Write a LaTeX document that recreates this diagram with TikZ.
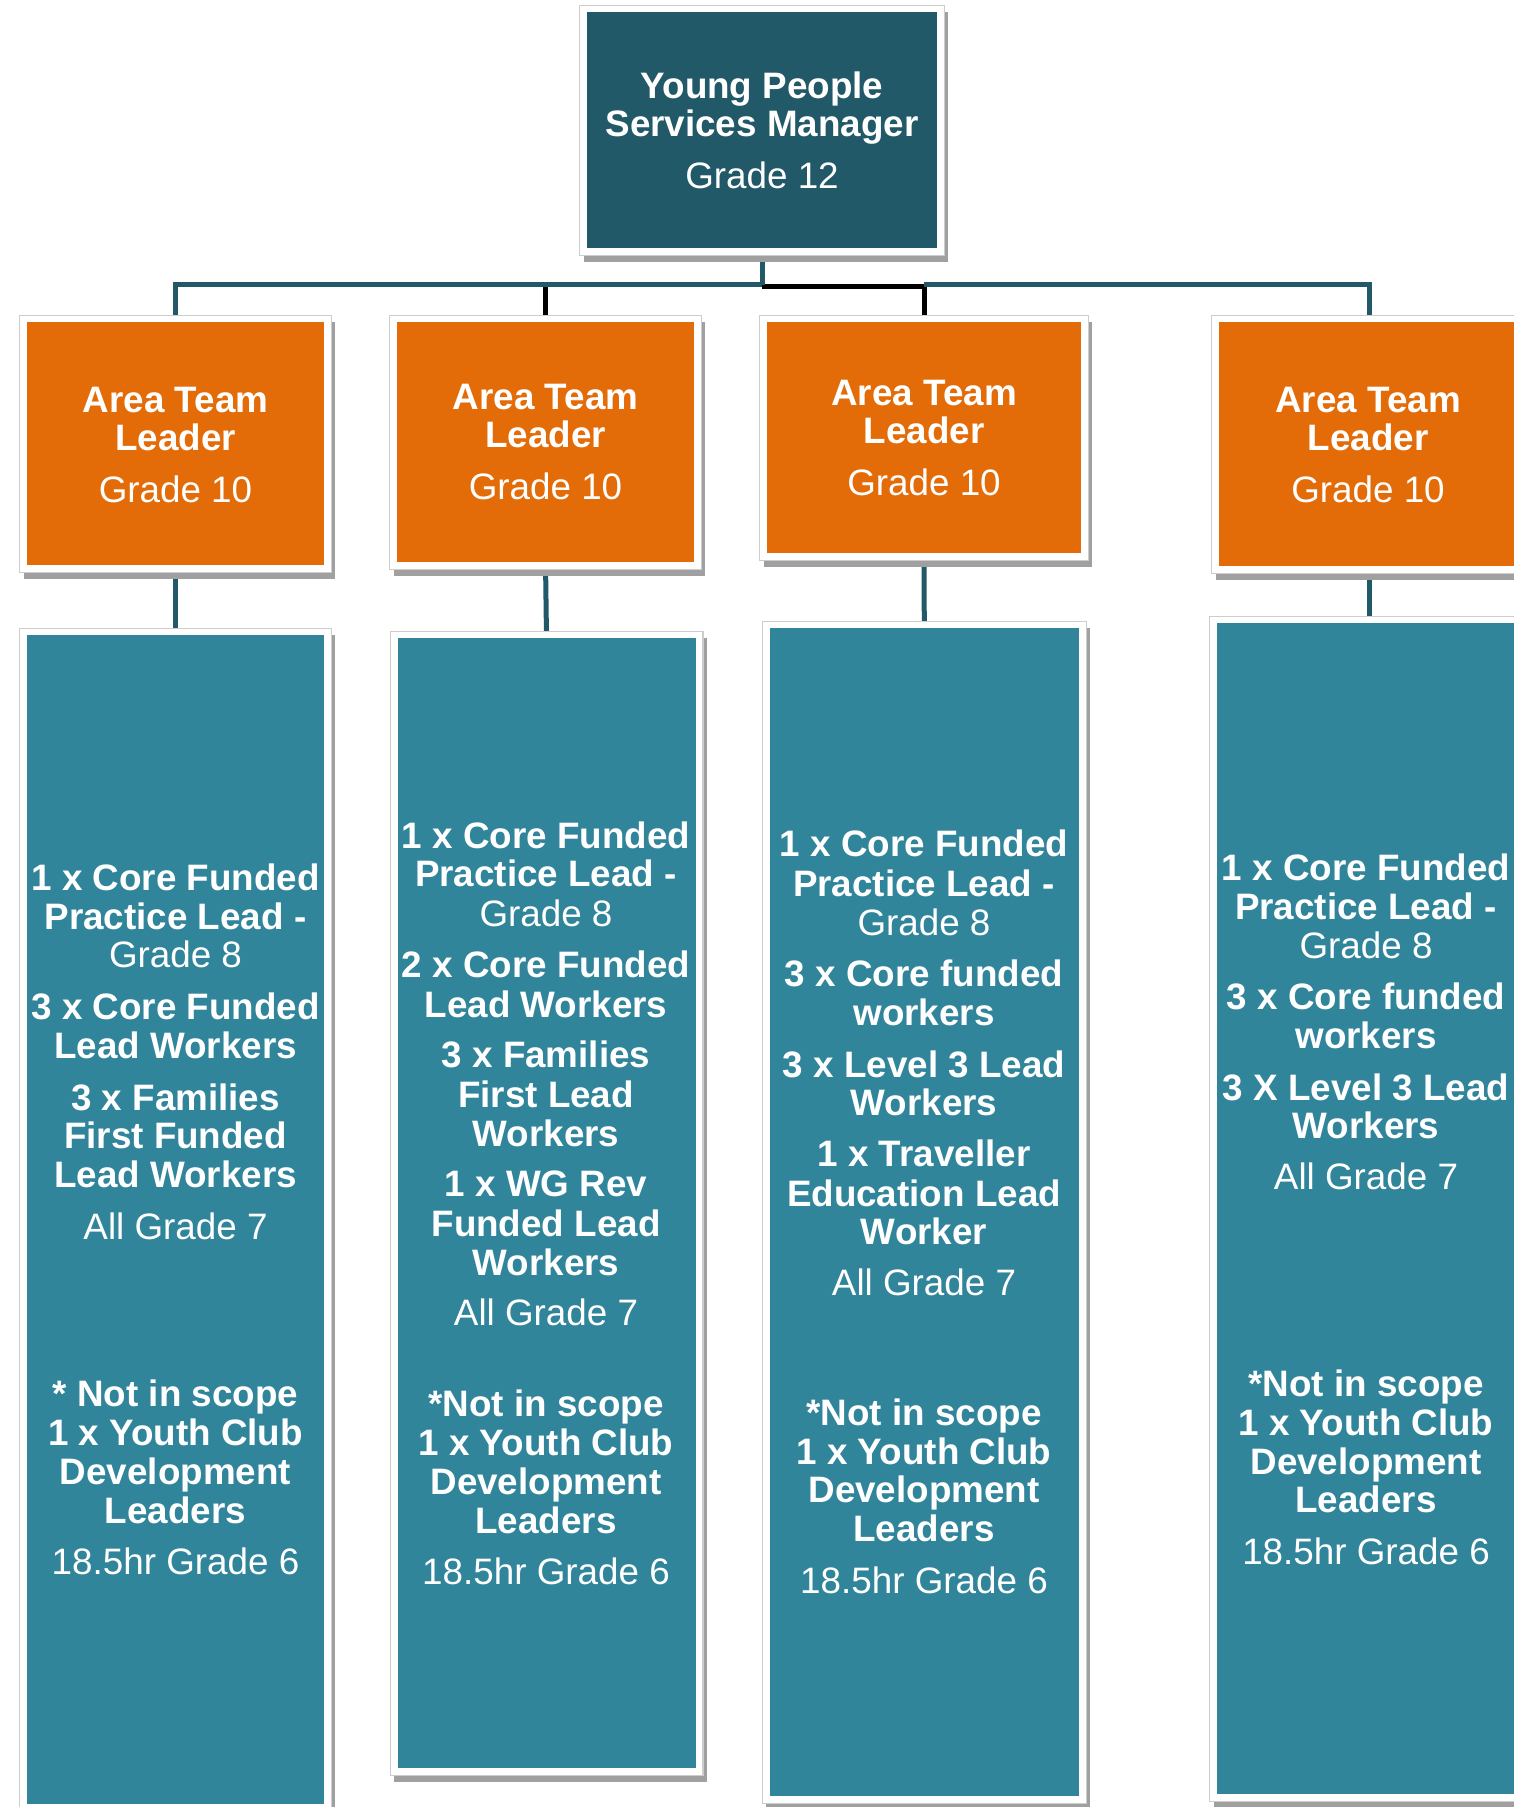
\documentclass[tikz,border=0pt]{standalone}
\usepackage{fontspec}
\setmainfont{Liberation Sans}
\usetikzlibrary{calc}
\pgfdeclarelayer{bg}
\pgfdeclarelayer{frm}
\pgfsetlayers{bg,frm,main}
\definecolor{darkteal}{RGB}{33,89,104}
\definecolor{orangeA}{RGB}{227,108,9}
\definecolor{tealB}{RGB}{49,133,155}
\definecolor{shgray}{RGB}{160,160,160}
\definecolor{frgray}{RGB}{205,205,205}
\newcommand\fsz{\fontsize{18.4pt}{19.5pt}\selectfont}
\begin{document}
\begin{tikzpicture}[x=0.5pt,y=-0.5pt,
 boxfill/.style={rectangle, inner sep=0pt, draw=none},
 txt/.style={text=white, inner sep=0pt, text height=13.2pt, text depth=0pt, font=\fsz},
 bt/.style={txt, font=\fsz\bfseries},
 conn/.style={line width=2.5pt, draw=darkteal},
 blk/.style={line width=2.5pt, draw=black}]
\useasboundingbox (0,0) rectangle (1513,1807);
% boxes
\node[boxfill, fill=darkteal, minimum width=175pt, minimum height=118pt] (top) at (762,130) {};
\node[boxfill, fill=orangeA, minimum width=148.5pt, minimum height=121.5pt] (o1) at (175.5,443.5) {};
\node[boxfill, fill=orangeA, minimum width=148.5pt, minimum height=120pt] (o2) at (545.5,442) {};
\node[boxfill, fill=orangeA, minimum width=157pt, minimum height=115.5pt] (o3) at (924,437.5) {};
\node[boxfill, fill=orangeA, minimum width=150pt, minimum height=122pt] (o4) at (1369,444) {};
\node[boxfill, fill=tealB, minimum width=148.5pt, minimum height=584.5pt] (t1) at (175.5,1219.5) {};
\node[boxfill, fill=tealB, minimum width=149pt, minimum height=565pt] (t2) at (546.5,1203) {};
\node[boxfill, fill=tealB, minimum width=154.7pt, minimum height=584pt] (t3) at (924.3,1212) {};
\node[boxfill, fill=tealB, minimum width=152pt, minimum height=585.5pt] (t4) at (1369,1208.5) {};
% frames
\begin{pgfonlayer}{frm}
\foreach \n in {top,o1,o2,o3,o4,t1,t2,t3,t4}{
 \fill[shgray] ($(\n.north west)+(-3,0)$) rectangle ($(\n.south east)+(11,14)$);
 \filldraw[fill=white, draw=frgray, line width=0.6pt] ($(\n.north west)+(-7,-6)$) rectangle ($(\n.south east)+(7,7)$);
}
\end{pgfonlayer}
% connectors
\begin{pgfonlayer}{bg}
\fill[white] (0,0) rectangle (1513,1807);
\coordinate (bus) at (0,285);
\draw[blk] (o2.north|-bus) -- (o2.north);
\draw[blk] ($(top.south|-bus)+(0,2)$) -- ($(o3.north|-bus)+(0,2)$) -- (o3.north);
\draw[conn] (o1.north) -- (o1.north|-bus) -- (top.south|-bus);
\draw[conn] (top.south) -- (top.south|-bus);
\draw[conn] (o3.north|-bus) -- (o4.north|-bus) -- (o4.north);
\draw[conn] (o1.south) -- (t1.north);
\draw[conn] (o2.south) -- (t2.north);
\draw[conn] (o3.south) -- (t3.north);
\draw[conn] (o4.south) -- (t4.north);
\end{pgfonlayer}
% texts
\node[bt] (tp-b1) at (762,85) {Young People};
\node[bt] (tp-b2) at (762,123) {Services Manager};
\node[txt] (tp-r1) at (762,175) {Grade 12};
\foreach \x/\ya/\yb/\yc [count=\i] in {175.5/399/437/489, 545.5/396/434/486, 924/392/430/482, 1368/399/437/489}{
 \node[bt] (ol\i-a) at (\x,\ya) {Area Team};
 \node[bt] (ol\i-b) at (\x,\yb) {Leader};
 \node[txt] (ol\i-c) at (\x,\yc) {Grade 10};
}
% box 1
\foreach \y/\t [count=\i] in {877/1 x Core Funded, 916/Practice Lead -, 1006/3 x Core Funded, 1045/Lead Workers, 1097/3 x Families, 1135/First Funded, 1174/Lead Workers, 1393/* Not in scope, 1432/1 x Youth Club, 1471/Development, 1510/Leaders}
 \node[bt] (a1-\i) at (175.5,\y) {\t};
\foreach \y/\t [count=\i] in {954/Grade 8, 1226/All Grade 7, 1561/18.5hr Grade 6}
 \node[txt] (r1-\i) at (175.5,\y) {\t};
% box 2
\foreach \y/\t [count=\i] in {835/1 x Core Funded, 873/Practice Lead -, 964/2 x Core Funded, 1004/Lead Workers, 1054/3 x Families, 1094/First Lead, 1133/Workers, 1183/1 x WG Rev, 1223/Funded Lead, 1262/Workers, 1403/*Not in scope, 1442/1 x Youth Club, 1481/Development, 1520/Leaders}
 \node[bt] (a2-\i) at (546,\y) {\t};
\foreach \y/\t [count=\i] in {913/Grade 8, 1312/All Grade 7, 1571/18.5hr Grade 6}
 \node[txt] (r2-\i) at (546,\y) {\t};
% box 3
\foreach \y/\t [count=\i] in {843/1 x Core Funded, 883/Practice Lead -, 973/3 x Core funded, 1012/workers, 1064/3 x Level 3 Lead, 1102/Workers, 1153/1 x Traveller, 1193/Education Lead, 1231/Worker, 1412/*Not in scope, 1451/1 x Youth Club, 1489/Development, 1528/Leaders}
 \node[bt] (a3-\i) at (924,\y) {\t};
\foreach \y/\t [count=\i] in {922/Grade 8, 1282/All Grade 7, 1580/18.5hr Grade 6}
 \node[txt] (r3-\i) at (924,\y) {\t};
% box 4
\foreach \y/\t [count=\i] in {867/1 x Core Funded, 906/Practice Lead -, 996/3 x Core funded, 1035/workers, 1087/3 X Level 3 Lead, 1125/Workers, 1383/*Not in scope, 1422/1 x Youth Club, 1461/Development, 1499/Leaders}
 \node[bt] (a4-\i) at (1366,\y) {\t};
\foreach \y/\t [count=\i] in {945/Grade 8, 1176/All Grade 7, 1551/18.5hr Grade 6}
 \node[txt] (r4-\i) at (1366,\y) {\t};
\end{tikzpicture}
\end{document}
